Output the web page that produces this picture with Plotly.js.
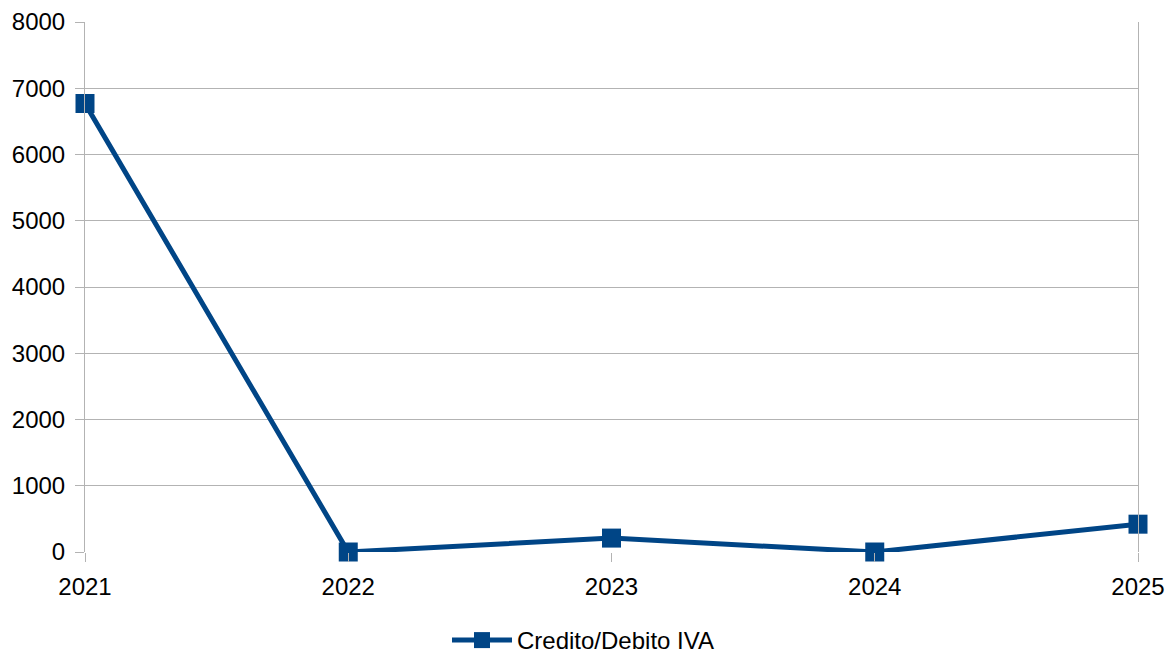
<!DOCTYPE html>
<html>
<head>
<meta charset="utf-8">
<script src="https://cdn.plot.ly/plotly-3.0.1.min.js"></script>
<style>html,body{margin:0;padding:0;background:#fff}#chart{width:1166px;height:663px}</style>
</head>
<body>
<div id="chart"></div>
<script>
const years = ['2021', '2022', '2023', '2024', '2025'];
const ivaValues = [6770, 0, 210, 0, 420];
const seriesName = 'Credito/Debito IVA';
const yTicks = [0, 1000, 2000, 3000, 4000, 5000, 6000, 7000, 8000];

const trace = {
  x: years,
  y: ivaValues,
  name: seriesName,
  type: 'scatter',
  mode: 'lines+markers',
  line: {color: '#004586', width: 5},
  marker: {symbol: 'square', size: 19, color: '#004586'},
  cliponaxis: false
};

const layout = {
  width: 1166,
  height: 663,
  margin: {l: 85, r: 28, t: 22, b: 111, autoexpand: false},
  paper_bgcolor: '#ffffff',
  plot_bgcolor: '#ffffff',
  font: {family: 'Liberation Sans, Arial, sans-serif', size: 24, color: '#000000'},
  showlegend: true,
  legend: {
    orientation: 'h',
    xref: 'container',
    yref: 'container',
    x: 0.5, xanchor: 'center',
    y: 0, yanchor: 'bottom',
    itemwidth: 60,
    font: {size: 24, color: '#000000'}
  },
  xaxis: {
    type: 'category',
    range: [0, 4],
    showgrid: false,
    zeroline: false,
    showline: false,
    ticks: 'outside',
    ticklen: 9,
    tickwidth: 1,
    tickcolor: '#b3b3b3',
    ticklabelstandoff: 4,
    tickfont: {size: 24}
  },
  yaxis: {
    range: [0, 8000],
    tickvals: yTicks,
    ticktext: yTicks.map(String),
    showgrid: true,
    gridcolor: '#b3b3b3',
    gridwidth: 1,
    zeroline: false,
    showline: true,
    mirror: true,
    linecolor: '#b3b3b3',
    linewidth: 1,
    ticks: 'outside',
    ticklen: 9,
    tickcolor: '#b3b3b3',
    ticklabelstandoff: 5,
    tickfont: {size: 24}
  }
};

Plotly.newPlot('chart', [trace], layout, {displayModeBar: false, staticPlot: true});
</script>
</body>
</html>
